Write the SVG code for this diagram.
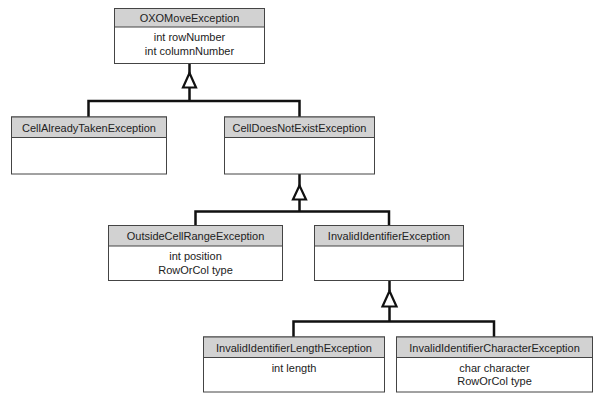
<svg xmlns="http://www.w3.org/2000/svg" width="600" height="404" viewBox="0 0 600 404">
<style>
.box{fill:#fff;stroke:#444;stroke-width:1}
.hdr{fill:#d2d2d2;stroke:#444;stroke-width:1}
text{font-family:"Liberation Sans",Arial,sans-serif;font-size:11px;fill:#222;text-anchor:middle}
.conn{fill:none;stroke:#111;stroke-width:2.5}
.tri{fill:#fff;stroke:#111;stroke-width:2.2;stroke-linejoin:miter}
</style>
<rect width="600" height="404" fill="#fff"/>
<g id="connectors">
<path class="conn" d="M189.5 63.5V74 M189.5 87.5V101 M88.5 117V101H299.5V117"/>
<polygon class="tri" points="189.5,73 183,87.5 196,87.5"/>
<path class="conn" d="M299.5 174V186 M299.5 199.5V211.5 M195.5 225V211.5H389V225"/>
<polygon class="tri" points="299.5,185.5 293,199.5 306,199.5"/>
<path class="conn" d="M389.5 280V291 M389.5 306.5V321.5 M293.5 337V321.5H494V337"/>
<polygon class="tri" points="389.5,291 382.5,306.5 396.5,306.5"/>
</g>
<g id="OXOMoveException">
<rect class="box" x="114.5" y="8.5" width="150" height="55"/>
<rect class="hdr" x="114.5" y="8.5" width="150" height="18.5"/>
<text x="189.5" y="22">OXOMoveException</text>
<text x="189.5" y="41">int rowNumber</text>
<text x="189.5" y="55">int columnNumber</text>
</g>
<g id="CellAlreadyTakenException">
<rect class="box" x="11.5" y="117" width="155" height="57"/>
<rect class="hdr" x="11.5" y="117" width="155" height="20.5"/>
<text x="89" y="131.5">CellAlreadyTakenException</text>
</g>
<g id="CellDoesNotExistException">
<rect class="box" x="224.5" y="117" width="150" height="57"/>
<rect class="hdr" x="224.5" y="117" width="150" height="20.5"/>
<text x="299.5" y="131.5">CellDoesNotExistException</text>
</g>
<g id="OutsideCellRangeException">
<rect class="box" x="108.5" y="225.5" width="174" height="55"/>
<rect class="hdr" x="108.5" y="225.5" width="174" height="20.5"/>
<text x="195.5" y="239.5">OutsideCellRangeException</text>
<text x="195.5" y="260">int position</text>
<text x="195.5" y="273.5">RowOrCol type</text>
</g>
<g id="InvalidIdentifierException">
<rect class="box" x="314.5" y="225.5" width="149" height="55"/>
<rect class="hdr" x="314.5" y="225.5" width="149" height="20.5"/>
<text x="389" y="239.5">InvalidIdentifierException</text>
</g>
<g id="InvalidIdentifierLengthException">
<rect class="box" x="203.5" y="337" width="181" height="55"/>
<rect class="hdr" x="203.5" y="337" width="181" height="20.5"/>
<text x="294" y="351.5">InvalidIdentifierLengthException</text>
<text x="294" y="371.5">int length</text>
</g>
<g id="InvalidIdentifierCharacterException">
<rect class="box" x="396.5" y="337" width="196" height="55"/>
<rect class="hdr" x="396.5" y="337" width="196" height="20.5"/>
<text x="494.5" y="351.5">InvalidIdentifierCharacterException</text>
<text x="494.5" y="371.5">char character</text>
<text x="494.5" y="385">RowOrCol type</text>
</g>
</svg>
